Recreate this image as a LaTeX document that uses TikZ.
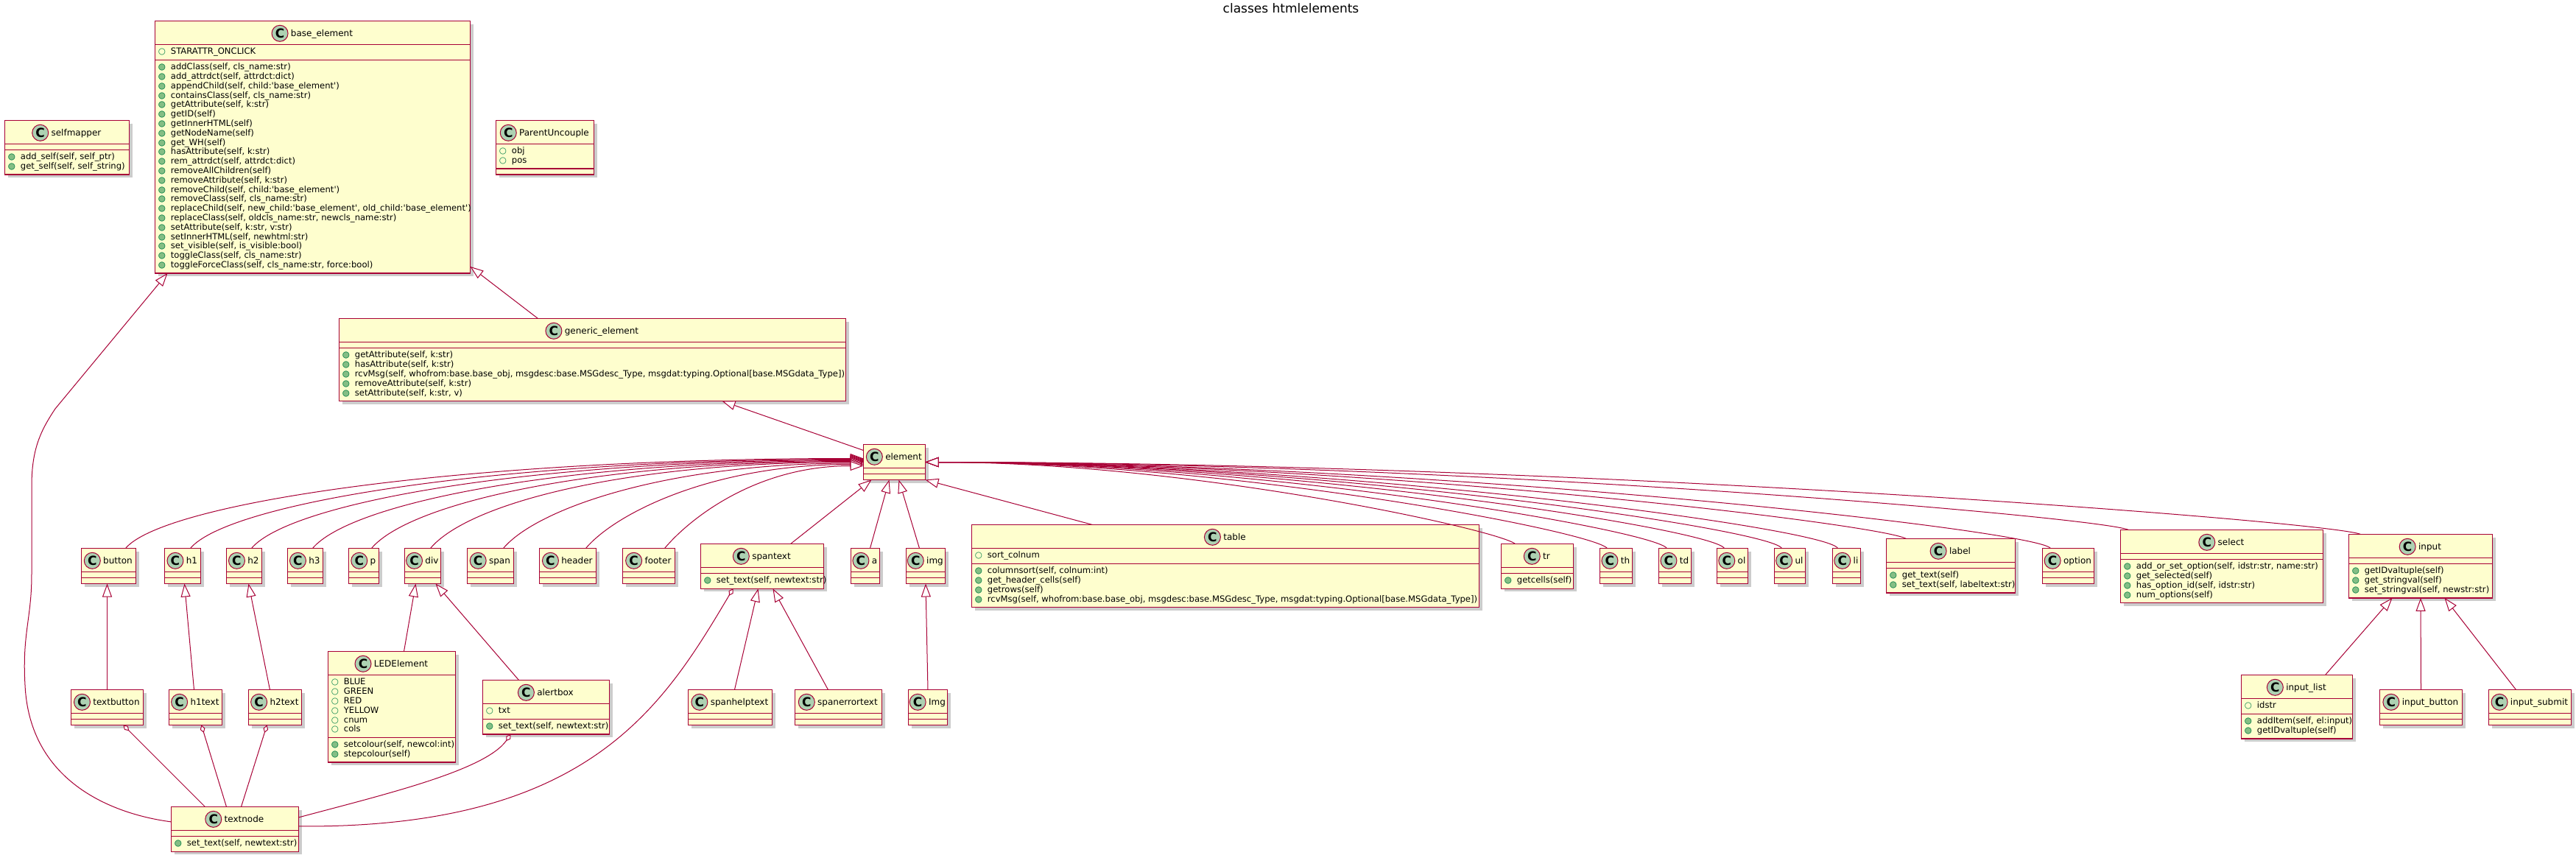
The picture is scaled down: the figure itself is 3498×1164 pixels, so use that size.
\documentclass[tikz,border=0pt]{standalone}
\usepackage{fontspec}
\setmainfont{DejaVu Sans}
\usepackage{xcolor}
\usetikzlibrary{arrows.meta,positioning,shadows}
\definecolor{Crimson}{HTML}{A80036}
\definecolor{Cream}{HTML}{FEFECE}
\definecolor{SpotGreen}{HTML}{ADD1B2}
\definecolor{IconFill}{HTML}{84BE84}
\definecolor{IconLine}{HTML}{038048}
\newcommand{\mfont}{\fontsize{5.8pt}{6.4pt}\selectfont}
\newcommand{\mstrut}{\rule[-1.9pt]{0pt}{6.4pt}}
\newcommand{\attr}[1]{\mstrut\makebox[8.5pt][l]{\textcolor{IconLine}{○}}#1}
\newcommand{\meth}[1]{\mstrut\makebox[8.5pt][l]{\rlap{\textcolor{IconFill}{●}}\textcolor{IconLine}{○}}#1}
\newcommand{\q}{\textquotesingle}
\tikzset{
 classbox/.style={rectangle, draw=Crimson, fill=Cream, line width=0.75pt, inner sep=0pt, outer sep=0pt,
   drop shadow={shadow xshift=2pt, shadow yshift=-2pt, opacity=0.2, fill=black}},
 splitline/.style={draw=Crimson, line width=0.75pt},
 cname/.style={inner sep=0pt, font=\fontsize{6pt}{7pt}\selectfont, text height=4.4pt, text depth=0pt},
 spot/.style={circle, draw=Crimson, line width=0.5pt, fill=SpotGreen, minimum size=11pt, inner sep=0pt,
   font=\fontsize{8.5pt}{9pt}\selectfont\bfseries},
 members/.style={anchor=north west, inner sep=0pt, align=left, font=\mfont},
 titletext/.style={anchor=base, inner sep=0pt, font=\fontsize{8.5pt}{10pt}\selectfont},
 inh/.style={draw=Crimson, line width=0.5pt, arrows={-Triangle[fill=white, length=9pt, width=6.5pt]}},
 agg/.style={draw=Crimson, line width=0.5pt, arrows={Diamond[fill=white, length=5.5pt, width=3.5pt]-}}
}
% id, left x, top y, width (px), name, #fields, fields, #methods, methods
\newcommand{\umlclass}[9]{%
 \pgfmathsetmacro{\clsfh}{(#6==0) ? 4 : #6*6.4+4}%
 \pgfmathsetmacro{\clsmh}{(#8==0) ? 4 : #8*6.4+4}%
 \pgfmathsetmacro{\clsh}{16+\clsfh+\clsmh}%
 \pgfmathsetmacro{\clsfy}{16+\clsfh}%
 \pgfmathsetmacro{\clsmy}{18+\clsfh}%
 \node[classbox, anchor=north west, minimum width=#4*0.5pt, minimum height=\clsh pt] (#1) at (#2,#3) {};
 \node[cname] (#1-n) at ([xshift=6.25pt, yshift=-8.4pt]#1.north) {#5};
 \node[spot, left=1.5pt of #1-n] (#1-s) {C};
 \draw[splitline] ([yshift=-16pt]#1.north west) -- ([yshift=-16pt]#1.north east);
 \draw[splitline] ([yshift=-\clsfy pt]#1.north west) -- ([yshift=-\clsfy pt]#1.north east);
 \node[members] (#1-f) at ([xshift=2pt, yshift=-18pt]#1.north west) {#7};
 \node[members] (#1-m) at ([xshift=2pt, yshift=-\clsmy pt]#1.north west) {#9};
}

\begin{document}
\begin{tikzpicture}[x=0.5pt, y=-0.5pt]
\useasboundingbox (0,0) rectangle (3498,1164);
\fill[white] (0,0) rectangle (3498,1164);
\node[titletext] (title) at (1753,17.3) {classes htmlelements};

% top row
\umlclass{selfmapper}{6.5}{163.5}{169}{selfmapper}{0}{}{2}{\meth{add\_self(self, self\_ptr)}\\\meth{get\_self(self, self\_string)}}
\umlclass{base}{210.5}{28.5}{428}{base\_element}{1}{\attr{STARATTR\_ONCLICK}}{22}{%
\meth{addClass(self, cls\_name:str)}\\
\meth{add\_attrdct(self, attrdct:dict)}\\
\meth{appendChild(self, child:\q base\_element\q)}\\
\meth{containsClass(self, cls\_name:str)}\\
\meth{getAttribute(self, k:str)}\\
\meth{getID(self)}\\
\meth{getInnerHTML(self)}\\
\meth{getNodeName(self)}\\
\meth{get\_WH(self)}\\
\meth{hasAttribute(self, k:str)}\\
\meth{rem\_attrdct(self, attrdct:dict)}\\
\meth{removeAllChildren(self)}\\
\meth{removeAttribute(self, k:str)}\\
\meth{removeChild(self, child:\q base\_element\q)}\\
\meth{removeClass(self, cls\_name:str)}\\
\meth{replaceChild(self, new\_child:\q base\_element\q, old\_child:\q base\_element\q)}\\
\meth{replaceClass(self, oldcls\_name:str, newcls\_name:str)}\\
\meth{setAttribute(self, k:str, v:str)}\\
\meth{setInnerHTML(self, newhtml:str)}\\
\meth{set\_visible(self, is\_visible:bool)}\\
\meth{toggleClass(self, cls\_name:str)}\\
\meth{toggleForceClass(self, cls\_name:str, force:bool)}}
\umlclass{puncouple}{673.5}{163.5}{133}{ParentUncouple}{2}{\attr{obj}\\\attr{pos}}{0}{}
\umlclass{generic}{460.5}{432.5}{688}{generic\_element}{0}{}{5}{%
\meth{getAttribute(self, k:str)}\\
\meth{hasAttribute(self, k:str)}\\
\meth{rcvMsg(self, whofrom:base.base\_obj, msgdesc:base.MSGdesc\_Type, msgdat:typing.Optional[base.MSGdata\_Type])}\\
\meth{removeAttribute(self, k:str)}\\
\meth{setAttribute(self, k:str, v)}}
\umlclass{element}{1172.5}{603.5}{84}{element}{0}{}{0}{}

% children of element
\umlclass{button}{110.5}{744.5}{74}{button}{0}{}{0}{}
\umlclass{h1}{223.5}{744.5}{49}{h1}{0}{}{0}{}
\umlclass{h2}{307.5}{744.5}{48}{h2}{0}{}{0}{}
\umlclass{h3}{390.5}{744.5}{48}{h3}{0}{}{0}{}
\umlclass{p}{473.5}{744.5}{41}{p}{0}{}{0}{}
\umlclass{div}{549.5}{744.5}{49}{div}{0}{}{0}{}
\umlclass{span}{634.5}{744.5}{63}{span}{0}{}{0}{}
\umlclass{header}{732.5}{744.5}{77}{header}{0}{}{0}{}
\umlclass{footer}{845.5}{744.5}{71}{footer}{0}{}{0}{}
\umlclass{spantext}{951.5}{738.5}{167}{spantext}{0}{}{1}{\meth{set\_text(self, newtext:str)}}
\umlclass{a}{1155.5}{744.5}{39}{a}{0}{}{0}{}
\umlclass{img}{1230.5}{744.5}{53}{img}{0}{}{0}{}
\umlclass{table}{1319.5}{712.5}{689}{table}{1}{\attr{sort\_colnum}}{4}{%
\meth{columnsort(self, colnum:int)}\\
\meth{get\_header\_cells(self)}\\
\meth{getrows(self)}\\
\meth{rcvMsg(self, whofrom:base.base\_obj, msgdesc:base.MSGdesc\_Type, msgdat:typing.Optional[base.MSGdata\_Type])}}
\umlclass{tr}{2038.5}{738.5}{98}{tr}{0}{}{1}{\meth{getcells(self)}}
\umlclass{th}{2172.5}{744.5}{44}{th}{0}{}{0}{}
\umlclass{td}{2252.5}{744.5}{44}{td}{0}{}{0}{}
\umlclass{ol}{2331.5}{744.5}{42}{ol}{0}{}{0}{}
\umlclass{ul}{2409.5}{744.5}{42}{ul}{0}{}{0}{}
\umlclass{li}{2488.5}{744.5}{38}{li}{0}{}{0}{}
\umlclass{label}{2561.5}{731.5}{175}{label}{0}{}{2}{\meth{get\_text(self)}\\\meth{set\_text(self, labeltext:str)}}
\umlclass{option}{2773.5}{744.5}{70}{option}{0}{}{0}{}
\umlclass{select}{2879.5}{719.5}{275}{select}{0}{}{4}{%
\meth{add\_or\_set\_option(self, idstr:str, name:str)}\\
\meth{get\_selected(self)}\\
\meth{has\_option\_id(self, idstr:str)}\\
\meth{num\_options(self)}}
\umlclass{input}{3189.5}{725.5}{195}{input}{0}{}{3}{%
\meth{getIDvaltuple(self)}\\
\meth{get\_stringval(self)}\\
\meth{set\_stringval(self, newstr:str)}}

% third row
\umlclass{textbutton}{96.5}{936.5}{98}{textbutton}{0}{}{0}{}
\umlclass{h1text}{229.5}{936.5}{72}{h1text}{0}{}{0}{}
\umlclass{h2text}{337.5}{936.5}{72}{h2text}{0}{}{0}{}
\umlclass{led}{445.5}{884.5}{173}{LEDElement}{6}{\attr{BLUE}\\\attr{GREEN}\\\attr{RED}\\\attr{YELLOW}\\\attr{cnum}\\\attr{cols}}{2}{%
\meth{setcolour(self, newcol:int)}\\
\meth{stepcolour(self)}}
\umlclass{alertbox}{655.5}{923.5}{172}{alertbox}{1}{\attr{txt}}{1}{\meth{set\_text(self, newtext:str)}}
\umlclass{spanhelp}{934.5}{936.5}{114}{spanhelptext}{0}{}{0}{}
\umlclass{spanerror}{1079.5}{936.5}{118}{spanerrortext}{0}{}{0}{}
\umlclass{Img}{1233.5}{936.5}{53}{Img}{0}{}{0}{}
\umlclass{inputlist}{3043.5}{916.5}{151}{input\_list}{1}{\attr{idstr}}{2}{%
\meth{addItem(self, el:input)}\\
\meth{getIDvaltuple(self)}}
\umlclass{inputbutton}{3231.5}{936.5}{112}{input\_button}{0}{}{0}{}
\umlclass{inputsubmit}{3379.5}{936.5}{112}{input\_submit}{0}{}{0}{}
\umlclass{textnode}{232.5}{1095.5}{173}{textnode}{0}{}{1}{\meth{set\_text(self, newtext:str)}}

% inheritance
\draw[inh] ([xshift=135pt]generic.north west) -- ([yshift=4.5pt]base.south east);
\draw[inh] ([yshift=-4pt]element.north west) -- ([xshift=260pt]generic.south west);
\draw[inh] ([yshift=5pt]textnode.west) .. controls (150,1105) and (40,1060) .. (34,930)
  .. controls (30,860) and (43,840) .. (43,780) -- (43,660)
  .. controls (43,610) and (55,585) .. (75,555) -- ([xshift=8.5pt]base.south west);

\foreach \c/\dx/\od/\id/\dy in {button/-7/40/275/2.5, h1/-7/40/251/2, h2/-7/40/229/1.5,
  h3/-7/40/206/1, p/-5/40/185/0.5, div/-7/40/162/0, span/-7/35/134/-0.75,
  header/-7/30/104/-1.5, footer/-7/25/74/-2.5}
  \draw[inh] ([xshift=\dx pt]\c.north east) to[out=50, in=180, out distance=\od pt, in distance=\id pt] ([yshift=\dy pt]element.west);

\foreach \c/\dx/\a/\od/\id in {tr/9.5/140/15/180, th/5/130/15/208, td/5.5/125/15/227,
  ol/5/120/15/244, ul/5/118/15/262, li/3.5/115/15/279, label/13.5/150/20/300,
  option/5.5/125/15/344, select/5.5/155/20/368, input/8/155/20/439}
  \draw[inh] ([xshift=\dx pt]\c.north west) to[out=\a, in=0, out distance=\od pt, in distance=\id pt] (element.east);

\draw[inh] ([xshift=-22.5pt]spantext.north east) -- ([xshift=5.5pt]element.south west);
\draw[inh] ([xshift=3.25pt]a.north) -- ([xshift=-3.5pt]element.south);
\draw[inh] ([xshift=-4.25pt]img.north) -- ([xshift=3pt]element.south);
\draw[inh] ([xshift=82pt]table.north west) -- (element.south east);

\draw[inh] (textbutton.north) -- (textbutton.north |- button.south);
\draw[inh] ([xshift=-1pt]h1text.north) -- ([xshift=1.25pt]h1.south);
\draw[inh] ([xshift=-3.5pt]h2text.north) -- ([xshift=3pt]h2.south);
\draw[inh] ([xshift=8.25pt]led.north) -- ([xshift=-4.75pt]div.south);
\draw[inh] ([xshift=24.5pt]alertbox.north west) -- ([xshift=-3.5pt]div.south east);
\draw[inh] ([xshift=3pt]spanhelp.north) -- ([xshift=39pt]spantext.south west);
\draw[inh] ([xshift=-7pt]spanerror.north) -- ([xshift=49pt]spantext.south west);
\draw[inh] (Img.north) -- (img.south);
\draw[inh] ([xshift=19.25pt]inputlist.north) -- ([xshift=29.5pt]input.south west);
\draw[inh] (inputbutton.north) -- (input.south);
\draw[inh] ([xshift=-9.5pt]inputsubmit.north) -- ([xshift=65pt]input.south west);

% aggregation
\draw[agg] ([xshift=11pt]textbutton.south) -- ([xshift=23pt]textnode.north west);
\draw[agg] ([xshift=4pt]h1text.south) -- ([xshift=37.5pt]textnode.north west);
\draw[agg] ([xshift=-5.5pt]h2text.south) -- ([xshift=47.5pt]textnode.north west);
\draw[agg] ([xshift=19pt]alertbox.south west) to[out=235, in=15, out distance=30pt, in distance=60pt] ([yshift=8pt]textnode.east);
\draw[agg] ([xshift=22pt]spantext.south west) .. controls (900,960) and (800,1125) .. ([yshift=2pt]textnode.east);
\end{tikzpicture}
\end{document}
